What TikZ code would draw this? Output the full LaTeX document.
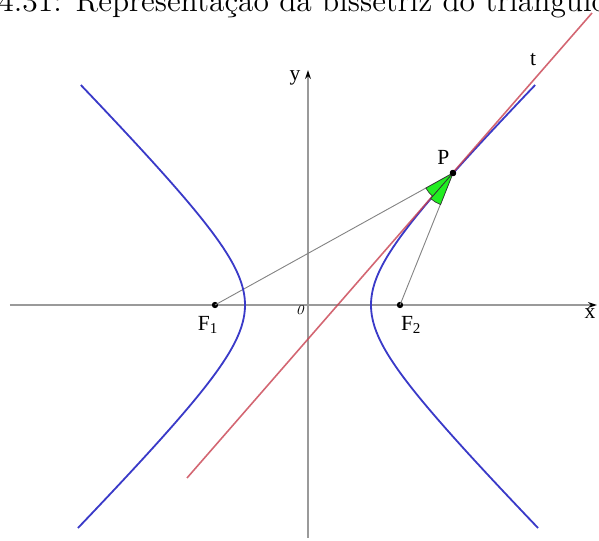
\documentclass[tikz,border=0pt]{standalone}
\usepackage{fontspec}
\newfontfamily\lblfont{Liberation Serif}
\usetikzlibrary{arrows.meta,positioning}
\definecolor{hypc}{HTML}{3A3AC8}
\definecolor{tanc}{HTML}{C8404F}
\definecolor{angc}{HTML}{22EE22}
\definecolor{axc}{HTML}{9A9A9A}

\begin{document}
\begin{tikzpicture}[x=0.0155cm, y=0.0155cm, font=\lblfont\fontsize{9.5}{11}\selectfont,
  axis/.style={draw=axc, line width=0.6pt, -{Stealth[black,length=4pt,width=2.6pt]}},
  seg/.style={draw=axc!85!black, line width=0.4pt},
  branch/.style={draw=hypc, line width=0.8pt, smooth, samples=80},
  wedge/.style={fill=angc, draw=black!80, line width=0.3pt},
  pt/.style={circle, fill=black, inner sep=0pt, minimum size=2.8pt}]
  \useasboundingbox (-308,-236) rectangle (291,305);
  \node[font=\rmfamily\fontsize{13.9}{16}\selectfont, anchor=base west, inner sep=0pt] (cap) at (-310,293) {4.31: Representação da bissetriz do triângulo};

  \coordinate (xl) at (-298,0);
  \coordinate (xr) at (289,0);
  \coordinate (yb) at (0,-233);
  \coordinate (yt) at (0,235);
  \draw[axis] (xl) -- (xr);
  \draw[axis] (yb) -- (yt);
  \node (xlab) at (282,-9) {x};
  \node (ylab) at (-13,227) {y};
  \node[font=\rmfamily\itshape\fontsize{6}{7}\selectfont] (olab) at (-8,-5) {0};

  \node[pt] (F1) at (-93,0) {};
  \node[pt] (F2) at (92,0) {};
  \node[pt] (P) at (145,132) {};
  \coordinate (tA) at (-121,-173);
  \coordinate (tB) at (284,292);

  \draw[seg] (F1.center) -- (P.center);
  \draw[seg] (F2.center) -- (P.center);
  \draw[branch] plot[domain=-223:220, variable=\t] ({63*sqrt(1+(\t/63.5)^2)}, \t);
  \draw[branch] plot[domain=-223:220, variable=\t] ({-63*sqrt(1+(\t/63.5)^2)}, \t);
  \draw[tanc, line width=0.7pt, opacity=0.8] (tA) -- (tB);

  \filldraw[wedge] (P.center) -- ++(209.1:31) arc[start angle=209.1, end angle=229, radius=31] -- cycle;
  \filldraw[wedge] (P.center) -- ++(229:34) arc[start angle=229, end angle=248.5, radius=34] -- cycle;
  \node[pt] at (P) {};

  \node[below=0pt of F1, xshift=-3pt] (lF1) {F\textsubscript{1}};
  \node[below=0pt of F2, xshift=5pt] (lF2) {F\textsubscript{2}};
  \node[above left=-1pt and -3pt of P] (lP) {P};
  \node (lt) at (225,245) {t};
\end{tikzpicture}
\end{document}
